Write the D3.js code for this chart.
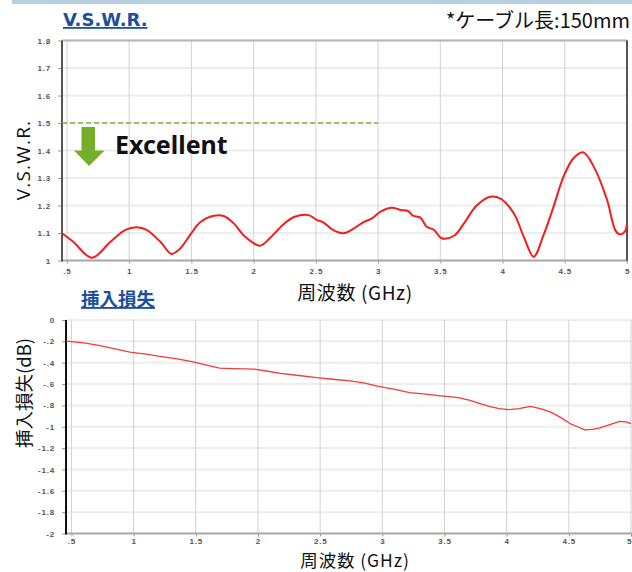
<!DOCTYPE html>
<html><head><meta charset="utf-8">
<script src="https://cdn.jsdelivr.net/npm/d3@7"></script>
<style>
html,body{margin:0;padding:0;background:#fff;}
svg{display:block;}
</style></head>
<body>
<svg id="c" width="632" height="572"></svg>
<script>
// ---- data ----
const vswrFreq = [0.46,0.55,0.70,0.85,0.97,1.06,1.14,1.25,1.34,1.41,1.49,1.57,1.68,1.76,1.84,1.93,2.05,2.13,2.24,2.33,2.44,2.51,2.56,2.63,2.72,2.80,2.88,2.95,3.02,3.11,3.18,3.24,3.28,3.34,3.39,3.45,3.51,3.61,3.69,3.79,3.90,3.98,4.09,4.17,4.25,4.33,4.41,4.49,4.57,4.65,4.74,4.84,4.91,4.95,4.985,5.0];
const vswrValue = [1.099,1.068,1.010,1.068,1.111,1.121,1.111,1.068,1.024,1.044,1.093,1.139,1.163,1.162,1.135,1.087,1.054,1.081,1.132,1.159,1.165,1.147,1.139,1.113,1.099,1.115,1.139,1.153,1.178,1.192,1.184,1.180,1.163,1.156,1.123,1.111,1.081,1.090,1.135,1.199,1.232,1.226,1.172,1.087,1.014,1.093,1.196,1.305,1.372,1.393,1.335,1.220,1.107,1.095,1.107,1.135];
const lossFreq = [0.456,0.6,0.73,0.85,0.97,1.1,1.21,1.35,1.47,1.58,1.69,1.8,1.97,2.08,2.18,2.33,2.47,2.6,2.74,2.85,2.96,3.1,3.22,3.35,3.47,3.60,3.70,3.78,3.86,3.94,4.02,4.1,4.19,4.27,4.35,4.43,4.51,4.57,4.63,4.69,4.75,4.83,4.91,4.96,5.0];
const lossValue = [-0.197,-0.215,-0.24,-0.27,-0.30,-0.32,-0.34,-0.365,-0.39,-0.42,-0.45,-0.455,-0.46,-0.48,-0.50,-0.52,-0.54,-0.555,-0.57,-0.59,-0.62,-0.65,-0.68,-0.695,-0.71,-0.725,-0.75,-0.78,-0.81,-0.83,-0.84,-0.83,-0.81,-0.83,-0.86,-0.91,-0.97,-1.0,-1.03,-1.025,-1.01,-0.98,-0.95,-0.955,-0.97];
const freqTicks = [0.5,1,1.5,2,2.5,3,3.5,4,4.5,5];
const freqTickLabels = [".5","1","1.5","2","2.5","3","3.5","4","4.5","5"];
const vswrTicks = [1,1.1,1.2,1.3,1.4,1.5,1.6,1.7,1.8];
const vswrTickLabels = ["1","1.1","1.2","1.3","1.4","1.5","1.6","1.7","1.8"];
const lossTicks = [0,-0.2,-0.4,-0.6,-0.8,-1,-1.2,-1.4,-1.6,-1.8,-2];
const lossTickLabels = ["0","-.2","-.4","-.6","-.8","-1","-1.2","-1.4","-1.6","-1.8","-2"];
const excellentLevel = 1.5;
const excellentEnd = 3.0;

const svg = d3.select("#c");
const CJK = "'Noto Sans CJK JP', 'Noto Sans', sans-serif";
const TICKF = "'Liberation Sans', Arial, sans-serif";

// top band
svg.append("rect").attr("x",12).attr("y",0).attr("width",620).attr("height",4).attr("fill","#b9cee0");

function panel(o){
  const g = svg.append("g");
  const x = d3.scaleLinear().domain(o.xDomain).range(o.xRange);
  const y = d3.scaleLinear().domain(o.yDomain).range(o.yRange);
  g.selectAll(".hg").data(o.yTicks).join("line")
    .attr("x1",o.xRange[0]).attr("x2",o.xRange[1])
    .attr("y1",d=>y(d)).attr("y2",d=>y(d))
    .attr("stroke","#ededed").attr("stroke-width",2);
  g.selectAll(".vg").data(o.xTicks).join("line")
    .attr("x1",d=>x(d)).attr("x2",d=>x(d))
    .attr("y1",o.yRange[1]).attr("y2",o.yRange[0])
    .attr("stroke","#d2d2d2").attr("stroke-width",1);
  const yAxis = d3.axisLeft(y).tickValues(o.yTicks).tickFormat((d,i)=>o.yLabels[i]).tickSize(4).tickPadding(7);
  const ya = g.append("g").attr("transform",`translate(${o.xRange[0]},0)`).call(yAxis);
  ya.select(".domain").remove();
  ya.selectAll("line").attr("stroke","#999");
  ya.selectAll("text").attr("font-family",TICKF).attr("font-size",8).attr("fill","#555")
    .attr("letter-spacing",0.8).attr("font-weight","bold");
  const xAxis = d3.axisBottom(x).tickValues(o.xTicks).tickFormat((d,i)=>o.xLabels[i]).tickSize(3).tickPadding(o.xPad);
  const xa = g.append("g").attr("transform",`translate(0,${o.yRange[0]})`).call(xAxis);
  xa.select(".domain").remove();
  xa.selectAll("line").attr("stroke","#999");
  xa.selectAll("text").attr("font-family",TICKF).attr("font-size",8).attr("fill","#555")
    .attr("letter-spacing",0.8).attr("font-weight","bold");
  if(o.lastEnd){
    xa.selectAll(".tick").filter((d,i,n)=>i===n.length-1).select("text")
      .attr("text-anchor","end").attr("letter-spacing",0).attr("dx",0);
  }
  g.append("line").attr("x1",o.xRange[0]).attr("x2",o.xRange[1]).attr("y1",o.yRange[0]).attr("y2",o.yRange[0])
    .attr("stroke","#aaa").attr("stroke-width",2);
  if(o.topBorder) g.append("line").attr("x1",o.xRange[0]).attr("x2",o.xRange[1]).attr("y1",o.yRange[1]).attr("y2",o.yRange[1])
    .attr("stroke","#b5b5b5").attr("stroke-width",2);
  if(o.rightBorder) g.append("line").attr("x1",o.xRange[1]).attr("x2",o.xRange[1]).attr("y1",o.yRange[1]).attr("y2",o.yRange[0])
    .attr("stroke","#222").attr("stroke-width",1.5);
  g.append("line").attr("x1",o.xRange[0]).attr("x2",o.xRange[0]).attr("y1",o.yRange[1]).attr("y2",o.yRange[0]+1)
    .attr("stroke",o.leftColor).attr("stroke-width",2);
  const pts = o.fx.map((f,i)=>[f,o.vy[i]]);
  g.append("path").datum(pts)
    .attr("d",d3.line().x(d=>x(d[0])).y(d=>y(d[1])).curve(o.curve))
    .attr("fill","none").attr("stroke",o.lineColor).attr("stroke-width",o.lineWidth).attr("stroke-linejoin","round");
  return {x,y,g};
}

const topPanel = panel({
  xDomain:[0.46,5.0], xRange:[62,627], yDomain:[1,1.8], yRange:[260.5,40.5],
  xTicks:freqTicks, xLabels:freqTickLabels, yTicks:vswrTicks, yLabels:vswrTickLabels,
  fx:vswrFreq, vy:vswrValue, lineColor:"#f21d1d", lineWidth:2, topBorder:true, rightBorder:true, leftColor:"#555",
  curve:d3.curveCatmullRom.alpha(0.5), xPad:5, lastEnd:false
});
const botPanel = panel({
  xDomain:[0.456,5.008], xRange:[66,632], yDomain:[-2,0], yRange:[533.5,320],
  xTicks:freqTicks, xLabels:freqTickLabels, yTicks:lossTicks, yLabels:lossTickLabels,
  fx:lossFreq, vy:lossValue, lineColor:"#f53a3a", lineWidth:1.3, topBorder:false, rightBorder:false, leftColor:"#111",
  curve:d3.curveLinear, xPad:1.5, lastEnd:true
});

// Excellent threshold
svg.append("line").attr("x1",topPanel.x(0.46)).attr("x2",topPanel.x(excellentEnd))
  .attr("y1",topPanel.y(excellentLevel)).attr("y2",topPanel.y(excellentLevel))
  .attr("stroke","#7cb442").attr("stroke-width",1.6).attr("stroke-dasharray","5,3");
svg.append("path").attr("d","M81.5,127 H95 V150.5 H104.5 L89,166 L74,150.5 H81.5 Z").attr("fill","#74ae2b");
svg.append("text").attr("x",115).attr("y",154).text("Excellent")
  .attr("font-family","'Noto Sans', sans-serif").attr("font-weight","bold").attr("font-size",25).attr("fill","#111");

// titles
svg.append("text").attr("x",63).attr("y",26).text("V.S.W.R.")
  .attr("font-family","'DejaVu Sans', Verdana, sans-serif").attr("font-weight","bold").attr("font-size",18)
  .attr("fill","#1c4f9e").attr("text-decoration","underline");
svg.append("text").attr("x",81).attr("y",306).text("挿入損失")
  .attr("font-family",CJK).attr("font-weight","bold").attr("font-size",18.5)
  .attr("fill","#1c4f9e").attr("text-decoration","underline");
svg.append("text").attr("x",630).attr("y",28).attr("text-anchor","end").text("*ケーブル長:150mm")
  .attr("font-family",CJK).attr("font-size",20).attr("fill","#111");

// axis titles
svg.append("text").attr("transform","translate(30,160) rotate(-90)").attr("text-anchor","middle").text("V.S.W.R.")
  .attr("font-family","'Open Sans', 'Noto Sans', sans-serif").attr("font-size",19).attr("letter-spacing",1.2).attr("fill","#111");
svg.append("text").attr("transform","translate(31,393) rotate(-90)").attr("text-anchor","middle").text("挿入損失(dB)")
  .attr("font-family",CJK).attr("font-size",18.5).attr("fill","#111");
svg.append("text").attr("x",355).attr("y",300).attr("text-anchor","middle").text("周波数 (GHz)")
  .attr("font-family",CJK).attr("font-size",19).attr("letter-spacing",0.6).attr("fill","#111");
svg.append("text").attr("x",355).attr("y",566.5).attr("text-anchor","middle").text("周波数 (GHz)")
  .attr("font-family",CJK).attr("font-size",17.5).attr("letter-spacing",0.9).attr("fill","#111");
</script>
</body></html>
